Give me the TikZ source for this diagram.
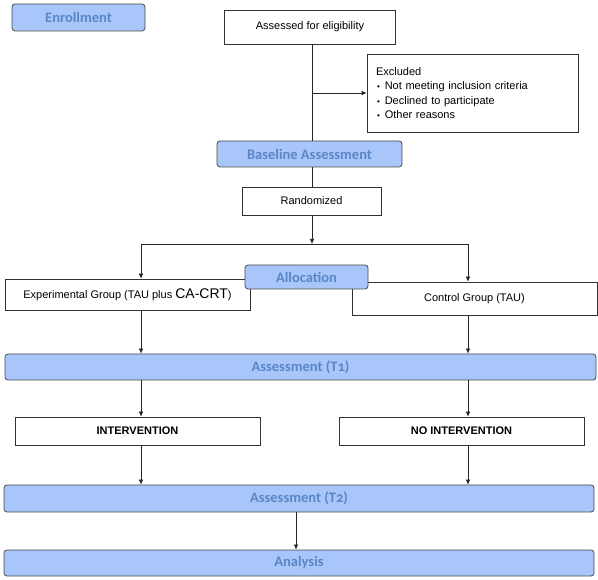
\documentclass[tikz,border=0pt]{standalone}
\usepackage{fontspec}
\setmainfont{Liberation Sans}
\newfontfamily\stagefont{Carlito}[Numbers=OldStyle]
\usetikzlibrary{arrows.meta}

\definecolor{stagefill}{HTML}{A8C6FA}
\definecolor{stagetext}{HTML}{5A86C6}
\definecolor{stageline}{HTML}{4A4A4A}

\tikzset{
  stagebox/.style={draw=stageline, fill=stagefill, rounded corners=3pt, line width=0.8pt,
    inner sep=0pt, text=stagetext, font=\stagefont\fontsize{14.5}{16}\selectfont\bfseries},
  infobox/.style={draw=black!80, fill=white, inner sep=0pt, line width=0.6pt,
    font=\fontsize{11}{13}\selectfont},
  flow/.style={draw=black!85, line width=0.6pt},
  arrowflow/.style={flow, -{Latex[length=5pt,width=4.5pt]}}
}

\begin{document}
\begin{tikzpicture}[x=1pt,y=-1pt]
        \useasboundingbox (0,0) rectangle (598,580);

        % stages and boxes
        \node[stagebox, minimum width=133pt, minimum height=27pt] (enrol) at (78.5,17.5) {Enrollment};
        \node[infobox, minimum width=171pt, minimum height=34pt] (assess) at (310,27) {Assessed for eligibility};
        \node[infobox, minimum width=211pt, minimum height=78pt, text width=193pt, align=left,
              font=\fontsize{11}{14.5}\selectfont] (excl) at (472.5,93)
              {Excluded\\
               \hspace*{1pt}{\footnotesize\textbullet}\hspace{5pt}Not meeting inclusion criteria\\
               \hspace*{1pt}{\footnotesize\textbullet}\hspace{5pt}Declined to participate\\
               \hspace*{1pt}{\footnotesize\textbullet}\hspace{5pt}Other reasons};
        \node[stagebox, minimum width=185pt, minimum height=26pt] (base) at (309.5,154) {Baseline Assessment};
        \node[infobox, minimum width=139pt, minimum height=28pt] (rand) at (311.5,201) {Randomized};

        \node[infobox, minimum width=245pt, minimum height=31pt] (exp) at (127.5,294.5)
              {Experimental Group (TAU plus {\fontsize{14}{15}\selectfont CA-CRT})};
        \node[infobox, minimum width=245pt, minimum height=33pt] (ctrl) at (474.5,298.5) {Control Group (TAU)};

        \node[stagebox, minimum width=591pt, minimum height=26pt] (tone) at (300.5,367) {Assessment (T1)};
        \node[infobox, minimum width=245pt, minimum height=28pt, font=\fontsize{11}{13}\selectfont\bfseries] (interv) at (137.5,431) {INTERVENTION};
        \node[infobox, minimum width=245pt, minimum height=28pt, font=\fontsize{11}{13}\selectfont\bfseries] (nointerv) at (461.5,431) {NO INTERVENTION};
        \node[stagebox, minimum width=590pt, minimum height=27pt] (ttwo) at (299,498.5) {Assessment (T2)};
        \node[stagebox, minimum width=590pt, minimum height=26pt] (anal) at (299,563) {Analysis};

        % columns of the two arms
        \coordinate (lcol) at (141,0);
        \coordinate (rcol) at (468,0);
        \coordinate (split) at (312,244);

        % connectors
        \draw[flow] (assess.south -| split) -- (base.north -| split);
        \draw[arrowflow] (excl.west -| split) -- (excl.west);
        \draw[flow] (base.south -| split) -- (rand.north -| split);
        \draw[arrowflow] (rand.south -| split) -- (split);
        \draw[arrowflow] (split) -| (lcol |- exp.north);
        \draw[arrowflow] (split) -| (rcol |- ctrl.north);

        \draw[arrowflow] (lcol |- exp.south) -- (lcol |- tone.north);
        \draw[arrowflow] (rcol |- ctrl.south) -- (rcol |- tone.north);
        \draw[arrowflow] (lcol |- tone.south) -- (lcol |- interv.north);
        \draw[arrowflow] (rcol |- tone.south) -- (rcol |- nointerv.north);
        \draw[arrowflow] (lcol |- interv.south) -- (lcol |- ttwo.north);
        \draw[arrowflow] (rcol |- nointerv.south) -- (rcol |- ttwo.north);
        \draw[arrowflow] ([xshift=-3pt]ttwo.south) -- ([xshift=-3pt]anal.north);

        % allocation sits over both arm boxes
        \node[stagebox, minimum width=123pt, minimum height=24pt] (alloc) at (306.5,277) {Allocation};
\end{tikzpicture}
\end{document}
